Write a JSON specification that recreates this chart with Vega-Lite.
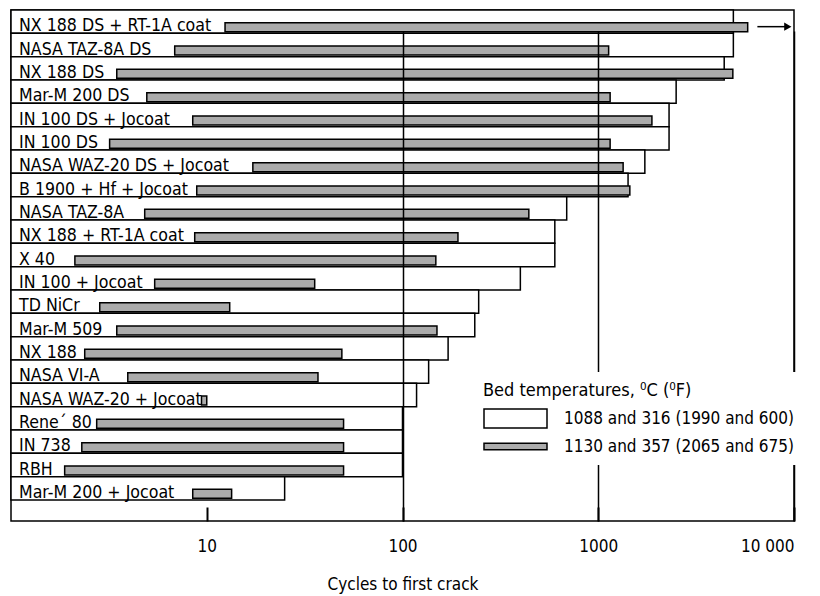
{
  "$schema": "https://vega.github.io/schema/vega-lite/v6.json",
  "width": 783,
  "height": 511,
  "autosize": {"type": "none"},
  "padding": {"left": 11, "top": 10, "right": 26, "bottom": 75},
  "background": "white",
  "config": {
    "view": {"stroke": "black", "strokeWidth": 1.5},
    "font": "DejaVu Sans Condensed, sans-serif"
  },
  "datasets": {
    "alloys": [
      {"material": "NX 188 DS + RT-1A coat", "open": 4900, "hatch": 5800, "hatch_from": 12.4},
      {"material": "NASA TAZ-8A DS", "open": 4900, "hatch": 1130, "hatch_from": 6.86},
      {"material": "NX 188 DS", "open": 4400, "hatch": 4870, "hatch_from": 3.47},
      {"material": "Mar-M 200 DS", "open": 2500, "hatch": 1150, "hatch_from": 4.94},
      {"material": "IN 100 DS + Jocoat", "open": 2300, "hatch": 1880, "hatch_from": 8.48},
      {"material": "IN 100 DS", "open": 2300, "hatch": 1150, "hatch_from": 3.19},
      {"material": "NASA WAZ-20 DS + Jocoat", "open": 1730, "hatch": 1340, "hatch_from": 17.2},
      {"material": "B 1900 + Hf + Jocoat", "open": 1420, "hatch": 1450, "hatch_from": 8.89},
      {"material": "NASA TAZ-8A", "open": 690, "hatch": 442, "hatch_from": 4.82},
      {"material": "NX 188 + RT-1A coat", "open": 600, "hatch": 192, "hatch_from": 8.68},
      {"material": "X 40", "open": 600, "hatch": 148, "hatch_from": 2.12},
      {"material": "IN 100 + Jocoat", "open": 400, "hatch": 35.6, "hatch_from": 5.42},
      {"material": "TD NiCr", "open": 245, "hatch": 13.1, "hatch_from": 2.84},
      {"material": "Mar-M 509", "open": 234, "hatch": 150, "hatch_from": 3.47},
      {"material": "NX 188", "open": 171, "hatch": 49, "hatch_from": 2.38},
      {"material": "NASA VI-A", "open": 136, "hatch": 37, "hatch_from": 3.95},
      {"material": "NASA WAZ-20 + Jocoat", "open": 118, "hatch": 10, "hatch_from": 9.4},
      {"material": "Rene´ 80", "open": 100, "hatch": 50, "hatch_from": 2.74},
      {"material": "IN 738", "open": 100, "hatch": 50, "hatch_from": 2.3},
      {"material": "RBH", "open": 100, "hatch": 50, "hatch_from": 1.88},
      {"material": "Mar-M 200 + Jocoat", "open": 25, "hatch": 13.4, "hatch_from": 8.48}
    ],
    "arrow": [
      {"material": "NX 188 DS + RT-1A coat", "from": 6500, "to": 9300}
    ]
  },
  "layer": [
    {
      "data": {"name": "alloys"},
      "mark": {"type": "bar", "stroke": "black", "strokeWidth": 1.5},
      "encoding": {
        "y": {"field": "material", "type": "nominal", "sort": null, "axis": null,
              "scale": {"range": [0, 490], "paddingInner": 0, "paddingOuter": 0}},
        "x": {"field": "open", "type": "quantitative",
              "scale": {"type": "log", "domain": [1, 10000]},
              "title": "Cycles to first crack",
              "axis": {
                "values": [10, 100, 1000, 10000],
                "grid": true, "gridColor": "black", "gridWidth": 1.5,
                "gridOpacity": {"condition": {"test": "datum.value == 10", "value": 0}, "value": 1},
                "domain": false,
                "tickColor": "black", "tickWidth": 2, "tickSize": -14,
                "labelPadding": 31, "labelFontSize": 17, "labelColor": "black",
                "labelExpr": "datum.value == 10000 ? '10 000' : format(datum.value, 'd')",
                "titleFontSize": 17, "titleFontWeight": "normal", "titleColor": "black",
                "titlePadding": 22, "zindex": 1
              }},
        "x2": {"datum": 1},
        "fill": {"datum": "1088 and 316 (1990 and 600)", "type": "nominal",
                 "scale": {"domain": ["1088 and 316 (1990 and 600)", "1130 and 357 (2065 and 675)"],
                           "range": ["white", "#ababab"]},
                 "legend": {
                   "title": "Bed temperatures,  ⁰C (⁰F)",
                   "orient": "none", "legendX": 462, "legendY": 362,
                   "fillColor": "white", "padding": 10,
                   "titleFontSize": 18, "titleFontWeight": "normal", "titleColor": "black",
                   "titlePadding": 7, "titleLimit": 400,
                   "labelFontSize": 17, "labelColor": "black", "labelOffset": 58, "labelLimit": 300,
                   "symbolSize": 441, "symbolStrokeColor": "black", "symbolStrokeWidth": 1.5,
                   "symbolOpacity": 1,
                   "rowPadding": 4, "zindex": 2,
                   "encode": {"symbols": {"update": {"shape": {"signal": "datum.value == '1088 and 316 (1990 and 600)' ? 'M-1,-0.9H5V0.9H-1Z' : 'M-1,-0.3H5V0.3H-1Z'"}}}}
                 }}
      }
    },
    {
      "data": {"name": "alloys"},
      "mark": {"type": "bar", "stroke": "black", "strokeWidth": 1.5, "height": 9, "yOffset": 5.5},
      "encoding": {
        "y": {"field": "material", "type": "nominal", "sort": null},
        "x": {"field": "hatch_from", "type": "quantitative"},
        "x2": {"field": "hatch"},
        "fill": {"datum": "1130 and 357 (2065 and 675)", "type": "nominal"}
      }
    },
    {
      "data": {"name": "alloys"},
      "mark": {"type": "text", "align": "left", "baseline": "alphabetic", "dx": 8, "dy": 9.5, "fontSize": 17.6, "color": "black"},
      "encoding": {
        "y": {"field": "material", "type": "nominal", "sort": null},
        "x": {"datum": 1},
        "text": {"field": "material"}
      }
    },
    {
      "data": {"name": "arrow"},
      "mark": {"type": "rule", "stroke": "black", "strokeWidth": 1.5, "yOffset": 5},
      "encoding": {
        "y": {"field": "material", "type": "nominal", "sort": null},
        "x": {"field": "from", "type": "quantitative"},
        "x2": {"field": "to"}
      }
    },
    {
      "data": {"name": "arrow"},
      "mark": {"type": "point", "shape": "triangle-right", "filled": true, "color": "black", "size": 70, "opacity": 1, "yOffset": 5},
      "encoding": {
        "y": {"field": "material", "type": "nominal", "sort": null},
        "x": {"field": "to", "type": "quantitative"}
      }
    }
  ]
}
